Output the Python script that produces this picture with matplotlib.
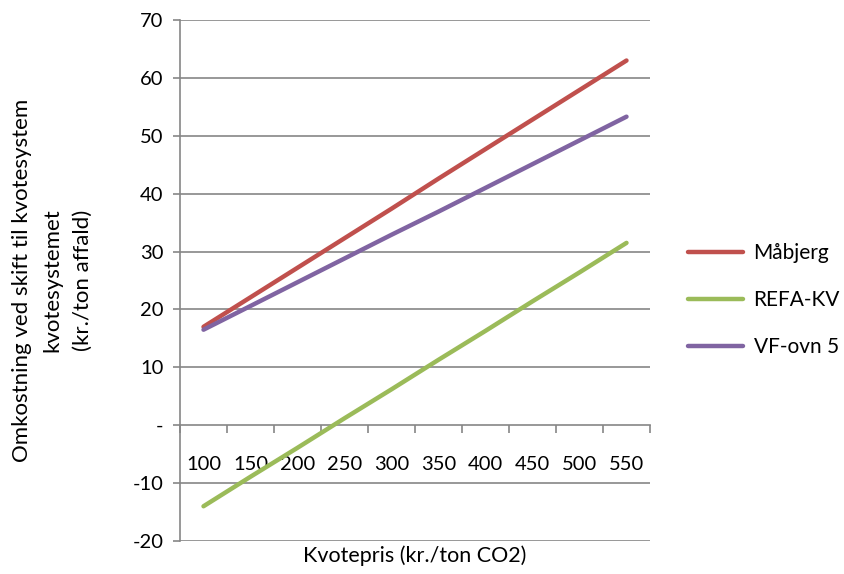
import matplotlib
matplotlib.use("Agg")
import matplotlib.pyplot as plt
from matplotlib.ticker import FixedLocator

plt.rcParams['font.family'] = ['Lato', 'DejaVu Sans']

categories = ["100", "150", "200", "250", "300", "350", "400", "450", "500", "550"]
mabjerg = [17.0, 22.1, 27.2, 32.3, 37.4, 42.6, 47.7, 52.8, 57.9, 63.0]
refa_kv = [-14.0, -8.9, -3.9, 1.2, 6.2, 11.3, 16.3, 21.4, 26.4, 31.5]
vf_ovn5 = [16.5, 20.6, 24.7, 28.8, 32.9, 36.9, 41.0, 45.1, 49.2, 53.3]
series_names = ["Måbjerg", "REFA-KV", "VF-ovn 5"]
y_ticks = [-20, -10, 0, 10, 20, 30, 40, 50, 60, 70]
y_tick_labels = ["-20", "-10", "-", "10", "20", "30", "40", "50", "60", "70"]

colors = ["#C0504D", "#9BBB59", "#8064A2"]
grid_c = "#868686"
fs = 14.5

fig = plt.figure(figsize=(8.45, 5.74), dpi=100)
ax = fig.add_axes([180/845, 1-541/574, 470/845, 521/574])

x = list(range(len(categories)))
for vals, name, c in zip([mabjerg, refa_kv, vf_ovn5], series_names, colors):
    ax.plot(x, vals, color=c, lw=3.2, solid_capstyle='round', label=name, zorder=3)

ax.set_xlim(-0.5, len(categories) - 0.5)
ax.set_ylim(-20, 70)
ax.set_yticks(y_ticks)
ax.set_yticklabels(y_tick_labels, fontsize=fs)
for yv in y_ticks:
    if yv != 0:
        ax.axhline(yv, color=grid_c, lw=1.2, zorder=1)

for s in ["top", "right"]:
    ax.spines[s].set_visible(False)
ax.spines["left"].set_color(grid_c)
ax.spines["left"].set_linewidth(1.2)
ax.spines["bottom"].set_position(("data", 0))
ax.spines["bottom"].set_color(grid_c)
ax.spines["bottom"].set_linewidth(1.2)

ax.tick_params(axis='y', colors=grid_c, labelcolor='black', length=5, width=1.2, pad=7)
ax.xaxis.set_major_locator(FixedLocator([i + 0.5 for i in range(-1, len(categories))]))
ax.xaxis.set_major_formatter(plt.NullFormatter())
ax.xaxis.set_minor_locator(FixedLocator(x))
ax.set_xticklabels(categories, minor=True, fontsize=fs)
ax.tick_params(axis='x', which='major', colors=grid_c, length=6, width=1.2, direction='out')
ax.tick_params(axis='x', which='minor', length=0, pad=22, labelcolor='black')

fig.text(415/845, 1-556/574, "Kvotepris (kr./ton CO2)", ha='center', va='center', fontsize=15.5)
fig.text(52/845, 1-280/574, "Omkostning ved skift til kvotesystem\nkvotesystemet\n(kr./ton affald)",
         ha='center', va='center', rotation=90, fontsize=16, linespacing=1.65, multialignment='center')

leg = fig.legend(loc='upper left', bbox_to_anchor=(688/845, 1-243/574), frameon=False,
                 fontsize=15, handlelength=2.65, labelspacing=1.3, handletextpad=0.5,
                 borderpad=0, borderaxespad=0)

fig.savefig("out.png", dpi=100)
